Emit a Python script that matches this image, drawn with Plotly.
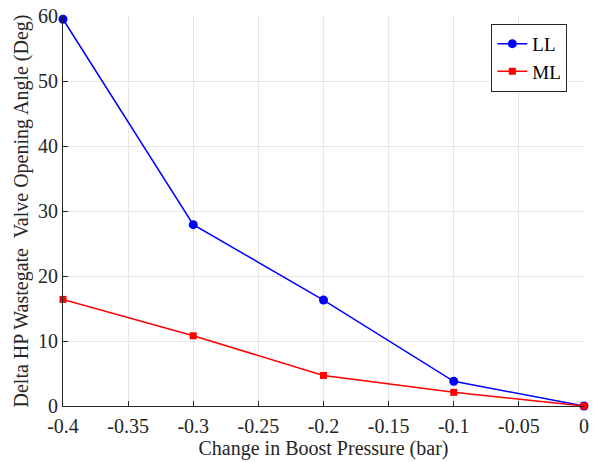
import plotly.graph_objects as go

x_vals = [-0.4, -0.3, -0.2, -0.1, 0]
ll_vals = [59.5, 27.9, 16.3, 3.8, 0]
ml_vals = [16.4, 10.8, 4.7, 2.1, 0]
x_ticks = [-0.4, -0.35, -0.3, -0.25, -0.2, -0.15, -0.1, -0.05, 0]
x_labels = ["-0.4", "-0.35", "-0.3", "-0.25", "-0.2", "-0.15", "-0.1", "-0.05", "0"]
y_ticks = [0, 10, 20, 30, 40, 50, 60]

font = "Liberation Serif"

fig = go.Figure()
fig.add_trace(go.Scatter(x=x_vals, y=ll_vals, name="LL", mode="lines+markers",
                         line=dict(color="#0000ff", width=1.5),
                         marker=dict(symbol="circle", size=9, color="#0000ff"),
                         cliponaxis=False))
fig.add_trace(go.Scatter(x=x_vals, y=ml_vals, name="ML", mode="lines+markers",
                         line=dict(color="#ff0000", width=1.5),
                         marker=dict(symbol="square", size=7, color="#ff0000"),
                         cliponaxis=False))

fig.update_layout(
    width=595, height=462,
    margin=dict(l=63, r=11, t=16, b=56),
    paper_bgcolor="white", plot_bgcolor="white",
    font=dict(family=font, size=20, color="#262626"),
    showlegend=True,
    legend=dict(x=0.968, y=0.98, xanchor="right", yanchor="top",
                bgcolor="white", bordercolor="#262626", borderwidth=1,
                font=dict(family=font, size=19, color="#000000"),
                tracegroupgap=0, itemwidth=30),
    xaxis=dict(range=[-0.4, 0], tickvals=x_ticks, ticktext=x_labels,
               automargin=False,
               showgrid=True, gridcolor="#e6e6e6", gridwidth=1,
               showline=True, linecolor="#262626", linewidth=1,
               ticks="inside", ticklen=5, tickcolor="#262626",
               tickfont=dict(family=font, size=20, color="#262626"),
               ticklabelstandoff=2,
               zeroline=False,
               title=dict(text="Change in Boost Pressure (bar)", font=dict(family=font, size=20), standoff=2)),
    yaxis=dict(range=[0, 60], tickvals=y_ticks,
               automargin=False,
               showgrid=True, gridcolor="#e6e6e6", gridwidth=1,
               showline=True, linecolor="#262626", linewidth=1,
               ticks="inside", ticklen=5, tickcolor="#262626",
               tickfont=dict(family=font, size=20, color="#262626"),
               zeroline=False,
               title=dict(text="Delta HP Wastegate  Valve Opening Angle (Deg)", font=dict(family=font, size=20), standoff=4)),
)

fig.write_html("out.html")
